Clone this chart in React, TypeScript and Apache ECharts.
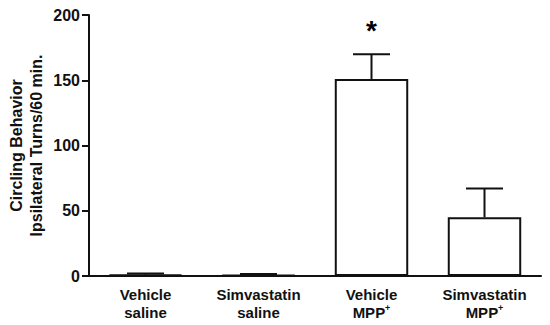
import React, { useEffect, useRef } from "react";
import * as echarts from "echarts";

const categories = ["Vehicle\nsaline", "Simvastatin\nsaline", "Vehicle\nMPP+", "Simvastatin\nMPP+"];
const means = [1, 0.6, 151, 45];
const errorTops = [2, 1.5, 170, 67];
const significance = ["", "", "*", ""];
const yTicks = [0, 50, 100, 150, 200];

export default function App() {
  const ref = useRef<HTMLDivElement>(null);
  useEffect(() => {
    if (!ref.current) return;
    const chart = echarts.init(ref.current, undefined, { renderer: "svg" });
    const font = "'Liberation Sans', Arial, sans-serif";
    chart.setOption({
      animation: false,
      grid: { left: 89, right: 9, top: 15, bottom: 49, outerBoundsMode: "none", containLabel: false },
      xAxis: {
        type: "category",
        data: categories,
        axisLine: { lineStyle: { color: "#111", width: 2 } },
        axisTick: { show: false },
        axisLabel: {
          margin: 9,
          interval: 0,
          formatter: (v: string) => {
            const [a, b] = v.split("\n");
            if (b.endsWith("+")) return `{t|${a}}\n{t|${b.slice(0, -1)}}{s|+}`;
            return `{t|${a}}\n{t|${b}}`;
          },
          rich: {
            t: { fontFamily: font, fontWeight: "bold", fontSize: 15, color: "#111", lineHeight: 18 },
            s: { fontFamily: font, fontWeight: "bold", fontSize: 9, color: "#111", verticalAlign: "top", lineHeight: 18, padding: [0, 0, 7, 0] },
          },
        },
      },
      yAxis: {
        type: "value",
        min: yTicks[0],
        max: yTicks[yTicks.length - 1],
        interval: 50,
        name: "Circling Behavior\nIpsilateral Turns/60 min.",
        nameLocation: "middle",
        nameGap: 43,
        nameMoveOverlap: false,
        nameRotate: 90,
        nameTextStyle: { fontFamily: font, fontWeight: "bold", fontSize: 16, color: "#111", lineHeight: 20 },
        splitLine: { show: false },
        axisLine: { show: true, lineStyle: { color: "#111", width: 2 } },
        axisTick: { show: true, length: 7, lineStyle: { color: "#111", width: 2 } },
        axisLabel: { fontFamily: font, fontWeight: "bold", fontSize: 16, color: "#111", margin: 9 },
      },
      series: [
        {
          type: "bar",
          data: means,
          barWidth: "65%",
          itemStyle: { color: "#fff", borderColor: "#111", borderWidth: 2 },
          z: 2,
        },
        {
          type: "custom",
          data: means.map((m, i) => [i, m, errorTops[i]]),
          z: 3,
          renderItem: (params: any, api: any) => {
            const i = api.value(0);
            const base = api.coord([i, api.value(1)]);
            const top = api.coord([i, api.value(2)]);
            const half = 18.5;
            return {
              type: "group",
              children: [
                { type: "line", shape: { x1: base[0], y1: base[1], x2: top[0], y2: top[1] }, style: { stroke: "#111", lineWidth: 2 } },
                { type: "line", shape: { x1: top[0] - half, y1: top[1], x2: top[0] + half, y2: top[1] }, style: { stroke: "#111", lineWidth: 2 } },
              ],
            };
          },
        },
        {
          type: "scatter",
          data: errorTops.map((e, i) => [i, e]),
          symbolSize: 0,
          z: 4,
          itemStyle: { opacity: 1 },
          label: {
            show: true,
            position: "top",
            distance: 10,
            formatter: (p: any) => significance[p.dataIndex],
            fontFamily: font,
            fontWeight: "bold",
            fontSize: 28,
            color: "#000",
            opacity: 1,
          },
        },
      ],
    });
    return () => chart.dispose();
  }, []);
  return <div ref={ref} style={{ width: 550, height: 325, position: "absolute", left: 0, top: 0 }} />;
}
